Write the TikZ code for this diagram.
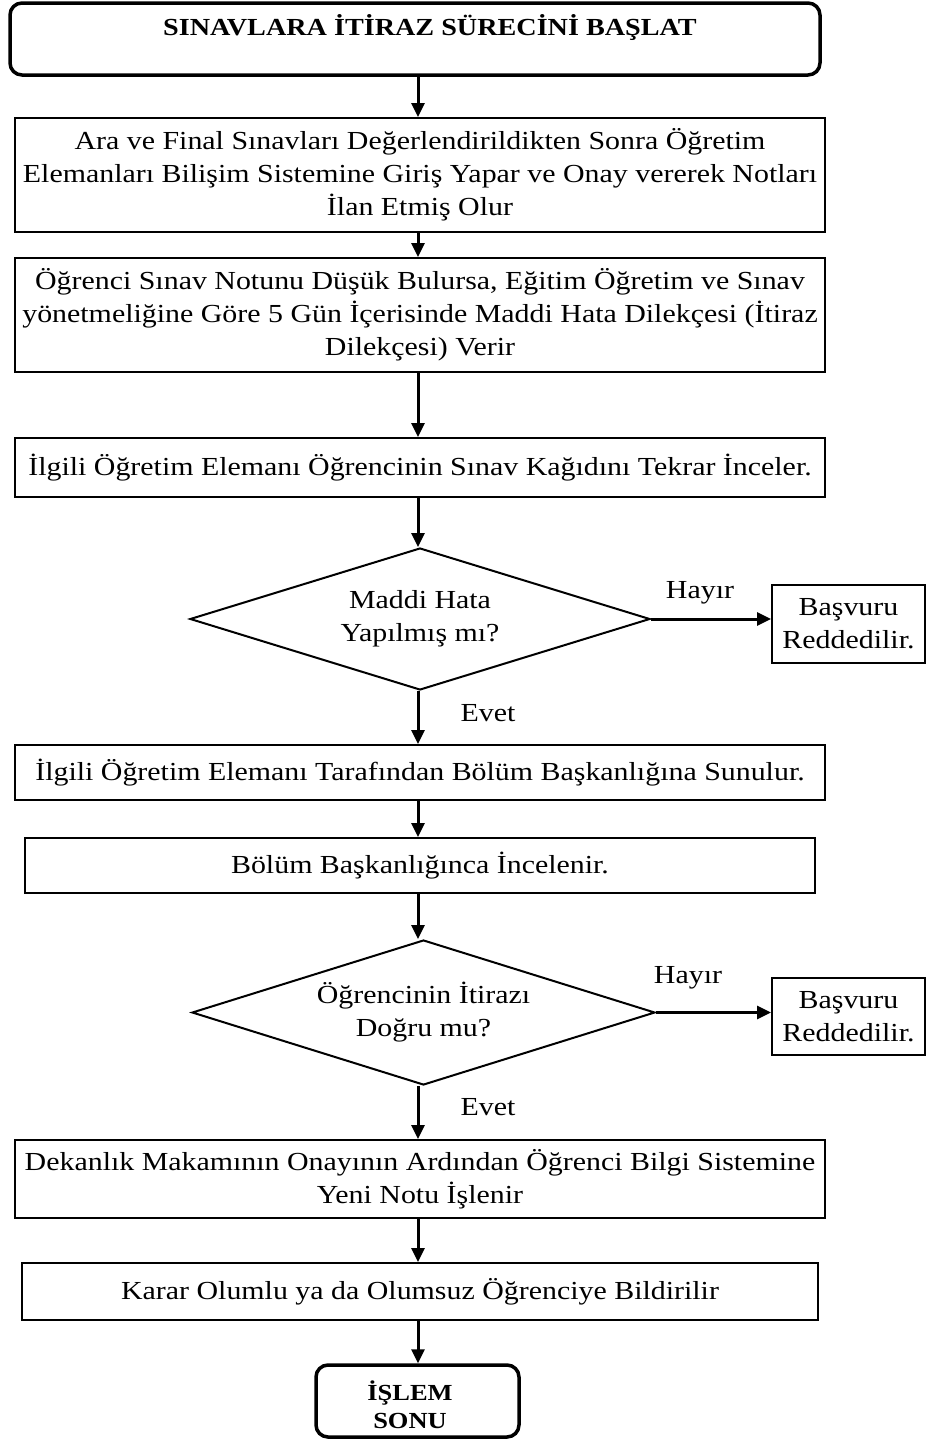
\documentclass[tikz,border=0pt]{standalone}
\usepackage{fontspec}
\setmainfont[FakeStretch=1.15]{Liberation Serif}
\usetikzlibrary{shapes.geometric,arrows.meta}
\begin{document}
\begin{tikzpicture}[x=1pt,y=-1pt,
  every node/.style={font=\fontsize{26}{33}\selectfont, align=center},
  procbox/.style={draw, line width=2pt, inner sep=0pt, minimum width=810pt},
  termbox/.style={draw, line width=3.5pt, rounded corners=12pt, inner sep=0pt},
  decide/.style={draw, diamond, shape aspect=3.24, line width=2pt, inner sep=0pt, minimum width=460pt, minimum height=142pt},
  sidebox/.style={draw, line width=2pt, inner sep=0pt, minimum width=153pt},
  arr/.style={line width=3pt, -{Triangle[length=14pt,width=13pt]}},
  lbl/.style={font=\fontsize{26}{30}\selectfont}]
\useasboundingbox (0,0) rectangle (928,1443);

% terminal: start
\node[termbox, minimum width=810pt, minimum height=72pt] (start) at (415,39) {};
\node[font=\fontsize{24.5}{28}\selectfont\bfseries] (starttxt) at (430,28) {SINAVLARA İTİRAZ SÜRECİNİ BAŞLAT};

% process steps
\node[procbox, minimum height=114pt] (b1) at (420,175)
  {Ara ve Final Sınavları Değerlendirildikten Sonra Öğretim\\Elemanları Bilişim Sistemine Giriş Yapar ve Onay vererek Notları\\İlan Etmiş Olur};
\node[procbox, minimum height=114pt] (b2) at (420,315)
  {Öğrenci Sınav Notunu Düşük Bulursa, Eğitim Öğretim ve Sınav\\yönetmeliğine Göre 5 Gün İçerisinde Maddi Hata Dilekçesi (İtiraz\\Dilekçesi) Verir};
\node[procbox, minimum height=59pt] (b3) at (420,467.5)
  {İlgili Öğretim Elemanı Öğrencinin Sınav Kağıdını Tekrar İnceler.};

% first decision
\node[decide] (d1) at (420,619) {Maddi Hata\\Yapılmış mı?};
\node[sidebox, minimum height=78pt] (r1) at (848.5,624) {Başvuru\\Reddedilir.};

\node[procbox, minimum height=55pt] (b4) at (420,772.5)
  {İlgili Öğretim Elemanı Tarafından Bölüm Başkanlığına Sunulur.};
\node[procbox, minimum width=790pt, minimum height=55pt] (b5) at (420,865.5)
  {Bölüm Başkanlığınca İncelenir.};

% second decision
\node[decide, minimum width=463pt, minimum height=145pt] (d2) at (423.5,1012.5) {Öğrencinin İtirazı\\Doğru mu?};
\node[sidebox, minimum height=77pt] (r2) at (848.5,1016.5) {Başvuru\\Reddedilir.};

\node[procbox, minimum height=78pt] (b6) at (420,1179)
  {Dekanlık Makamının Onayının Ardından Öğrenci Bilgi Sistemine\\Yeni Notu İşlenir};
\node[procbox, minimum width=796pt, minimum height=57pt] (b7) at (420,1291.5)
  {Karar Olumlu ya da Olumsuz Öğrenciye Bildirilir};

% terminal: end
\node[termbox, minimum width=203pt, minimum height=72pt] (stop) at (417.5,1401) {};
\node[font=\fontsize{23}{28}\selectfont\bfseries] (stoptxt) at (410,1405) {İŞLEM\\SONU};

% branch labels
\node[lbl] (h1) at (700,593) {Hayır};
\node[lbl] (e1) at (488,713) {Evet};
\node[lbl] (h2) at (688,978) {Hayır};
\node[lbl] (e2) at (488,1107) {Evet};

% connectors
\draw[arr] (start.south -| 418,0) -- (b1.north -| 418,0);
\draw[arr] (b1.south -| 418,0) -- (b2.north -| 418,0);
\draw[arr] (b2.south -| 418,0) -- (b3.north -| 418,0);
\draw[arr] (b3.south -| 418,0) -- (d1.north -| 418,0);
\draw[arr] (d1.east) -- (d1.east -| r1.west);
\draw[arr] (d1.south -| 418,0) -- (b4.north -| 418,0);
\draw[arr] (b4.south -| 418,0) -- (b5.north -| 418,0);
\draw[arr] (b5.south -| 418,0) -- (d2.north -| 418,0);
\draw[arr] (d2.east) -- (d2.east -| r2.west);
\draw[arr] (d2.south -| 418,0) -- (b6.north -| 418,0);
\draw[arr] (b6.south -| 418,0) -- (b7.north -| 418,0);
\draw[arr] (b7.south -| 418,0) -- (stop.north -| 418,0);
\end{tikzpicture}
\end{document}
